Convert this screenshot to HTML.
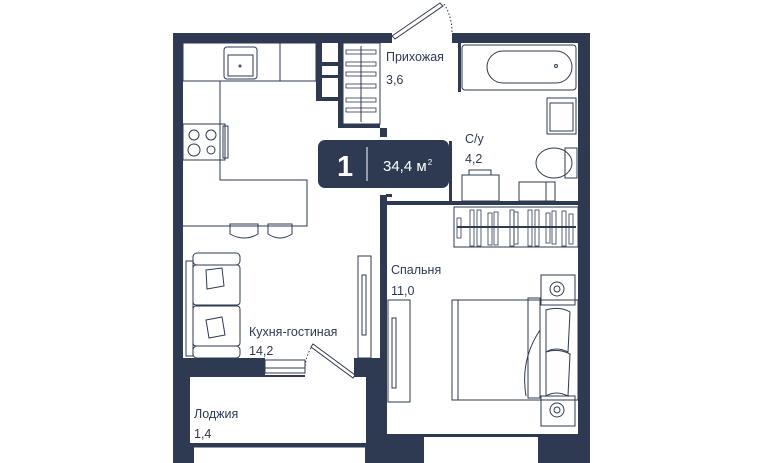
<!DOCTYPE html>
<html><head><meta charset="utf-8"><style>
html,body{margin:0;padding:0;background:#fff;}
svg{display:block}
text{font-family:"Liberation Sans",sans-serif;fill:#2d3a52;}
</style></head><body>
<svg width="762" height="463" viewBox="0 0 762 463" xmlns="http://www.w3.org/2000/svg">
<g fill="#2d3a52">
<rect x="173" y="33" width="417" height="430"/>
</g>
<g fill="#fff">
<rect x="183" y="43" width="197" height="315"/>
<rect x="316" y="43" width="145" height="158"/>
<rect x="380" y="137" width="10" height="58"/>
<rect x="392" y="30" width="60" height="14"/>
<rect x="461" y="43" width="117" height="158"/>
<rect x="387" y="205" width="191" height="229"/>
<rect x="190" y="377" width="176" height="66"/>
<rect x="265" y="358" width="40" height="17"/>
<rect x="305" y="358" width="49" height="19"/>
<rect x="194" y="447" width="171" height="16"/>
<rect x="424" y="437" width="114" height="26"/>
</g>
<g fill="#2d3a52">
<rect x="380" y="195" width="7" height="163"/>
<rect x="380" y="128" width="7" height="9"/>
<rect x="449" y="201" width="140" height="4"/>
<rect x="458" y="43" width="3" height="49"/>
<rect x="449" y="141" width="3" height="64"/>
<rect x="316" y="43" width="6" height="58"/>
<rect x="316" y="62" width="27" height="4"/>
<rect x="316" y="75" width="27" height="3"/>
<rect x="316" y="97" width="27" height="4"/>
<rect x="338" y="43" width="5" height="84"/>
<rect x="338" y="124" width="42" height="4"/>
<rect x="386" y="194" width="6" height="3"/>
</g>
<g fill="none" stroke="#2d3a52" stroke-width="1">
<path d="M392 36 L440 3 L443 6 L395 39 Z"/>
<path d="M444 4 Q452 16 452 33" stroke-dasharray="1.5 2"/>
<rect x="183" y="43" width="133" height="38"/>
<line x1="280" y1="43" x2="280" y2="81"/>
<rect x="224" y="47" width="33" height="32" rx="3"/>
<rect x="228" y="55" width="25" height="21"/>
<circle cx="240" cy="66" r="1"/>
<path d="M220 81 V180 H307 V226 H183"/>
<rect x="183" y="124" width="42" height="36"/>
<circle cx="194" cy="135" r="5"/><circle cx="211" cy="135" r="5"/>
<circle cx="194" cy="150" r="6"/><circle cx="211" cy="150" r="4"/>
<rect x="223" y="126" width="5" height="32"/>
<path d="M230 224 h28 v10 q-14 8 -28 0 z"/>
<path d="M268 224 h24 v10 q-12 8 -24 0 z"/>
<rect x="193" y="253" width="47" height="12" rx="4"/>
<rect x="186" y="261" width="7" height="95"/>
<rect x="193" y="265" width="47" height="40" rx="3"/>
<rect x="193" y="306" width="47" height="40" rx="3"/>
<rect x="193" y="346" width="47" height="12" rx="4"/>
<path d="M206 270 l16 -2 l2 18 l-17 3 z"/>
<path d="M206 320 l16 -3 l3 18 l-16 3 z"/>
<rect x="265" y="360" width="40" height="13"/>
<line x1="265" y1="368" x2="305" y2="368"/>
<path d="M313 344 L355 375 L353 378 L311 347 Z"/>
<path d="M311 348 Q305 358 305 370" stroke-dasharray="1.5 2"/>
<line x1="192" y1="444" x2="365" y2="444"/><line x1="192" y1="447" x2="365" y2="447"/>
<rect x="358" y="256" width="13" height="102"/>
<rect x="362" y="275" width="4" height="60"/>
<rect x="343" y="43" width="37" height="81"/>
<line x1="361" y1="46" x2="361" y2="122"/>
<g stroke-width="0.8">
<rect x="346" y="50" width="30" height="4"/><rect x="346" y="62" width="30" height="4"/>
<rect x="346" y="72" width="30" height="4"/><rect x="346" y="84" width="30" height="4"/>
<rect x="346" y="98" width="30" height="4"/><rect x="346" y="108" width="30" height="4"/>
</g>
<rect x="462" y="45" width="114" height="45" rx="3"/>
<rect x="487" y="51" width="85" height="32" rx="16"/>
<circle cx="556" cy="66" r="1.5"/>
<rect x="547" y="98" width="29" height="36"/>
<rect x="550" y="103" width="23" height="28"/>
<ellipse cx="554" cy="163" rx="18" ry="15"/>
<rect x="565" y="148" width="12" height="30"/>
<rect x="462" y="175" width="37" height="26"/>
<rect x="469" y="170" width="22" height="5"/>
<rect x="519" y="182" width="36" height="19"/>
<line x1="546" y1="182" x2="546" y2="201"/>
<rect x="454" y="207" width="124" height="40"/>
<line x1="457" y1="227" x2="576" y2="227" stroke-width="2"/>
<g stroke-width="0.8">
<rect x="470" y="210" width="4" height="36"/><rect x="477" y="210" width="4" height="36"/>
<rect x="488" y="213" width="4" height="32"/><rect x="494" y="212" width="4" height="33"/>
<rect x="510" y="210" width="4" height="36"/><rect x="514" y="212" width="4" height="32"/>
<rect x="528" y="210" width="4" height="36"/><rect x="535" y="210" width="4" height="36"/>
<rect x="546" y="213" width="4" height="30"/><rect x="552" y="211" width="4" height="33"/>
<rect x="562" y="211" width="4" height="35"/><rect x="569" y="214" width="4" height="30"/>
<rect x="457" y="218" width="4" height="20"/>
</g>
<rect x="388" y="300" width="22" height="102"/>
<rect x="392" y="318" width="4" height="70"/>
<rect x="452" y="300" width="126" height="100"/>
<line x1="458" y1="300" x2="458" y2="400"/>
<rect x="541" y="275" width="34" height="30"/>
<circle cx="557" cy="289" r="7"/><circle cx="557" cy="289" r="3"/>
<rect x="541" y="396" width="34" height="30"/>
<circle cx="557" cy="410" r="7"/><circle cx="557" cy="410" r="3"/>
<rect x="528" y="298" width="12" height="100"/>
<path d="M546 310 q14 -4 24 2 l-2 40 q-12 -6 -22 0 z"/>
<path d="M546 352 q12 -4 24 2 l-2 42 q-12 -6 -22 0 z"/>
<path d="M540 330 q-20 30 -14 66" />
</g>
<rect x="318" y="140" width="131" height="48" rx="7" fill="#2d3a52"/>
<text x="337" y="176" style="fill:#fff;font-weight:bold;font-size:29px">1</text>
<line x1="367" y1="147" x2="367" y2="181" stroke="#fff" stroke-width="1"/>
<text x="383" y="171" style="fill:#fff;font-size:15px">34,4 м<tspan dx="1" dy="-6" style="font-size:8px">2</tspan></text>
<g style="font-size:12.5px">
<text x="386" y="61">Прихожая</text><text x="386" y="84">3,6</text>
<text x="465" y="143">С/у</text><text x="465" y="163">4,2</text>
<text x="391" y="274">Спальня</text><text x="391" y="295">11,0</text>
<text x="249" y="336">Кухня-гостиная</text><text x="249" y="355">14,2</text>
<text x="194" y="418">Лоджия</text><text x="194" y="438">1,4</text>
</g>
</svg>
</body></html>
